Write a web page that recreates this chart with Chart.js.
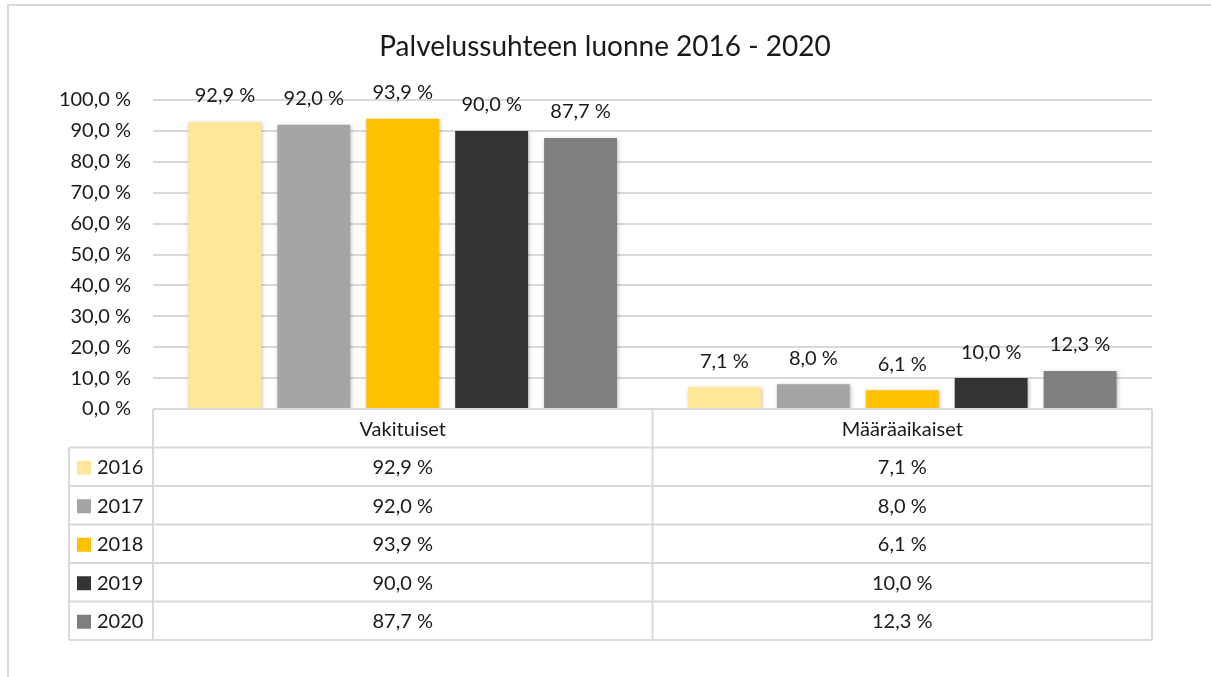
<!DOCTYPE html>
<html>
<head>
<meta charset="utf-8">
<script src="https://cdn.jsdelivr.net/npm/chart.js@4"></script>
<style>
  html, body { margin: 0; padding: 0; background: #fff; }
  #wrap { width: 1211px; height: 677px; position: relative; }
</style>
</head>
<body>
<div id="wrap"><canvas id="chart" width="1211" height="677"></canvas></div>
<script>
// --- Données ---
const categories = ['Vakituiset', 'Määräaikaiset'];
const years = ['2016', '2017', '2018', '2019', '2020'];
const values2016 = [92.9, 7.1];
const values2017 = [92.0, 8.0];
const values2018 = [93.9, 6.1];
const values2019 = [90.0, 10.0];
const values2020 = [87.7, 12.3];
const colors = ['#FFE699', '#A5A5A5', '#FFC000', '#333333', '#7F7F7F'];
const seriesValues = [values2016, values2017, values2018, values2019, values2020];
const titre = 'Palvelussuhteen luonne 2016 - 2020';

const FONT = 'Lato, "Open Sans", sans-serif';
const fmt = v => v.toFixed(1).replace('.', ',') + ' %';

// cadre extérieur + titre + table de données sous le graphique
const dataTable = {
    id: 'dataTable',
    afterDraw(chart) {
        const ctx = chart.ctx;
        const area = chart.chartArea;
        const xs = chart.scales.x;
        const rowH = 38.5;
        const legendLeft = 69;
        const top = area.bottom;
        ctx.save();
        ctx.strokeStyle = '#D9D9D9';
        ctx.lineWidth = 2;
        // cadre
        ctx.beginPath();
        ctx.moveTo(8, 677); ctx.lineTo(8, 5); ctx.lineTo(1211, 5);
        ctx.stroke();

        // titre
        ctx.fillStyle = '#1a1a1a';
        ctx.font = '28px ' + FONT;
        ctx.textAlign = 'center';
        ctx.textBaseline = 'middle';
        ctx.fillText(titre, 605, 47);

        const colEdges = [area.left];
        for (let i = 0; i < categories.length; i++) {
            colEdges.push(xs.getPixelForValue(i) + (xs.getPixelForValue(1) - xs.getPixelForValue(0)) / 2);
        }
        colEdges[colEdges.length - 1] = area.right;
        const bottom = top + rowH * (years.length + 1);

        ctx.beginPath();
        // lignes horizontales
        ctx.moveTo(area.left, top); ctx.lineTo(area.right, top);
        for (let r = 1; r <= years.length + 1; r++) {
            ctx.moveTo(legendLeft, top + rowH * r); ctx.lineTo(area.right, top + rowH * r);
        }
        // verticales
        colEdges.forEach(x => { ctx.moveTo(x, top); ctx.lineTo(x, bottom); });
        ctx.moveTo(legendLeft, top + rowH); ctx.lineTo(legendLeft, bottom);
        ctx.stroke();

        ctx.font = '20px ' + FONT;
        categories.forEach((c, i) => {
            ctx.fillText(c, xs.getPixelForValue(i), top + rowH / 2 + 1);
        });
        years.forEach((y, r) => {
            const cy = top + rowH * (r + 1) + rowH / 2 + 1;
            ctx.fillStyle = colors[r];
            ctx.fillRect(77, cy - 7, 14, 14);
            ctx.fillStyle = '#1a1a1a';
            ctx.textAlign = 'left';
            ctx.fillText(y, 97, cy);
            ctx.textAlign = 'center';
            seriesValues[r].forEach((v, i) => {
                ctx.fillText(fmt(v), xs.getPixelForValue(i), cy);
            });
        });
        ctx.restore();
    }
};

// étiquettes au-dessus des barres
const barLabels = {
    id: 'barLabels',
    beforeDatasetsDraw(chart) {
        const ctx = chart.ctx;
        ctx.save();
        ctx.shadowColor = 'rgba(0,0,0,0.25)';
        ctx.shadowBlur = 4;
        ctx.shadowOffsetX = 1;
        ctx.shadowOffsetY = 1;
    },
    afterDatasetsDraw(chart) {
        const ctx = chart.ctx;
        ctx.restore();
        ctx.save();
        ctx.fillStyle = '#1a1a1a';
        ctx.font = '20px ' + FONT;
        ctx.textAlign = 'center';
        ctx.textBaseline = 'middle';
        chart.data.datasets.forEach((ds, d) => {
            chart.getDatasetMeta(d).data.forEach((bar, i) => {
                ctx.fillText(fmt(ds.data[i]), bar.x, bar.y - 26);
            });
        });
        ctx.restore();
    }
};

new Chart(document.getElementById('chart').getContext('2d'), {
    type: 'bar',
    data: {
        labels: categories,
        datasets: years.map((y, i) => ({
            label: y,
            data: seriesValues[i],
            backgroundColor: colors[i],
            categoryPercentage: 0.89,
            barPercentage: 0.82
        }))
    },
    options: {
        responsive: false,
        animation: false,
        layout: { padding: { left: 0, right: 59, top: 100, bottom: 268 } },
        plugins: {
            legend: { display: false },
            tooltip: { enabled: false },
            title: { display: false }
        },
        scales: {
            x: { display: false },
            y: {
                min: 0, max: 100,
                ticks: { stepSize: 10, callback: v => fmt(v), color: '#1a1a1a', font: { family: FONT, size: 20 }, padding: 22 },
                grid: { color: '#D9D9D9', lineWidth: 2, drawTicks: false },
                border: { display: false },
                afterFit(scale) { scale.width = 153; }
            }
        }
    },
    plugins: [barLabels, dataTable]
});
</script>
</body>
</html>
